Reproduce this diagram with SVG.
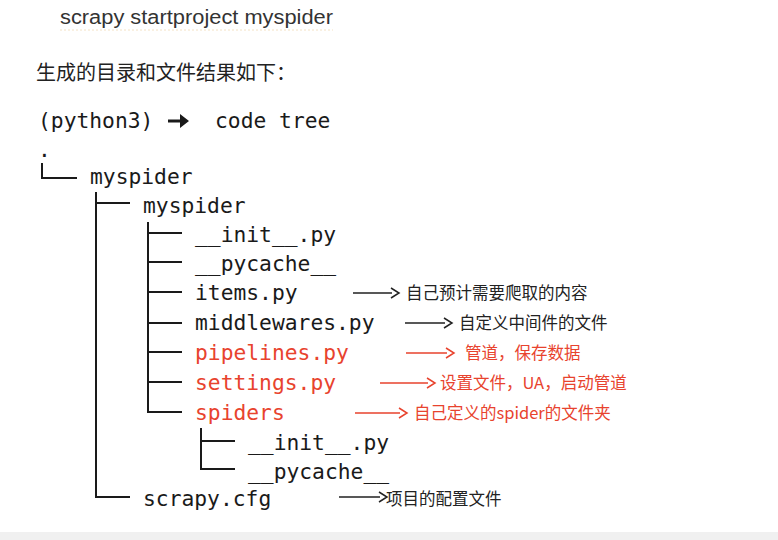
<svg xmlns="http://www.w3.org/2000/svg" width="778" height="540" viewBox="0 0 778 540">
<style>
.sans{font-family:"Liberation Sans","Noto Sans CJK SC",sans-serif;fill:#333}
.cjk{font-family:"Noto Sans CJK SC","Liberation Sans",sans-serif;fill:#222}
.mono{font-family:"DejaVu Sans Mono","Liberation Mono",monospace;font-size:21.3px;fill:#1a1a1a}
.red{fill:#e8432e}
.tree{stroke:#1a1a1a;stroke-width:2;fill:none}
.arr{stroke:#222;stroke-width:1.5;fill:none}
.arr.r{stroke:#e8432e}
.note{font-size:16.5px}
</style>
<rect x="0" y="0" width="778" height="540" fill="#ffffff"/>
<rect x="0" y="532" width="778" height="8" fill="#f0f0f0"/>
<g id="header">
<text class="sans" x="60" y="24" font-size="20" textLength="273" lengthAdjust="spacingAndGlyphs">scrapy startproject myspider</text>
<line x1="60" y1="30" x2="333" y2="30" stroke="#f3e2c4" stroke-width="1" stroke-dasharray="2 2"/>
<text class="cjk" x="36" y="80" font-size="20" fill="#333">生成的目录和文件结果如下：</text>
<text class="mono" x="38" y="128">(python3)</text>
<path d="M168 119.5 H180 V114 L189 121 L180 128 V122.5 H168 Z" fill="#1a1a1a"/>
<text class="mono" x="215" y="128">code tree</text>
<text class="mono" x="38" y="157">.</text>
</g>
<g id="connectors">
<path class="tree" d="M42 163 V178 H77"/>
<path class="tree" d="M96 192 V497 H130 M96 203 H130"/>
<path class="tree" d="M148 222 V412 H182 M148 233 H182 M148 262 H182 M148 292 H182 M148 323 H182 M148 352 H182 M148 382 H182"/>
<path class="tree" d="M201 428 V469 H235 M201 441 H235"/>
<path class="arr" d="M353 293 H392 M391 288 L399 293 L391 298"/>
<path class="arr" d="M405 323 H445 M444 318 L452 323 L444 328"/>
<path class="arr r" d="M406 353 H447 M446 348 L454 353 L446 358"/>
<path class="arr r" d="M380 383 H428 M427 378 L435 383 L427 388"/>
<path class="arr r" d="M355 413 H400 M399 408 L407 413 L399 418"/>
<path class="arr" d="M339 497 H380 M379 492 L387 497 L379 502"/>
</g>
<g id="root"><text class="mono" x="90" y="184">myspider</text></g>
<g id="pkg"><text class="mono" x="143" y="213">myspider</text></g>
<g id="init"><text class="mono" x="195" y="242">__init__.py</text></g>
<g id="pycache"><text class="mono" x="195" y="271">__pycache__</text></g>
<g id="items"><text class="mono" x="195" y="300">items.py</text>
<text class="cjk note" x="406" y="299">自己预计需要爬取的内容</text></g>
<g id="middlewares"><text class="mono" x="195" y="330">middlewares.py</text>
<text class="cjk note" x="459" y="329">自定义中间件的文件</text></g>
<g id="pipelines"><text class="mono red" x="195" y="360">pipelines.py</text>
<text class="cjk note red" x="465" y="359">管道，保存数据</text></g>
<g id="settings"><text class="mono red" x="195" y="390">settings.py</text>
<text class="cjk note red" x="440" y="389">设置文件，UA，启动管道</text></g>
<g id="spiders"><text class="mono red" x="195" y="420">spiders</text>
<text class="cjk note red" x="414" y="419">自己定义的spider的文件夹</text></g>
<g id="sp-init"><text class="mono" x="248" y="450">__init__.py</text></g>
<g id="sp-pycache"><text class="mono" x="248" y="479">__pycache__</text></g>
<g id="cfg"><text class="mono" x="143" y="506">scrapy.cfg</text>
<text class="cjk note" x="386" y="505">项目的配置文件</text></g>
</svg>
